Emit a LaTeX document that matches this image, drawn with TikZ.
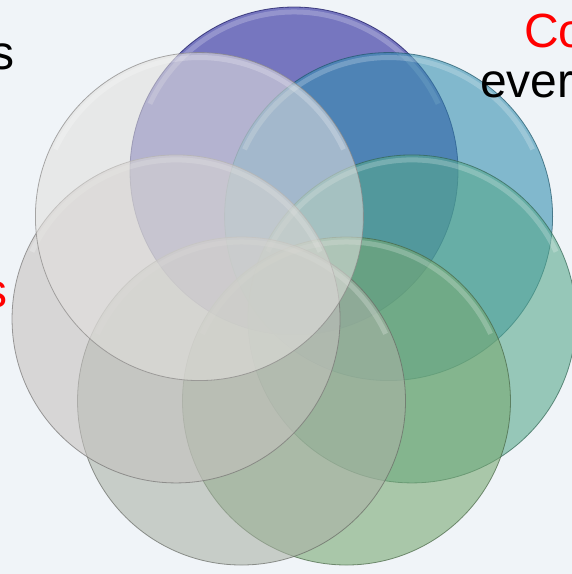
\documentclass[tikz,border=0pt]{standalone}
\usepackage{fontspec}
\setmainfont{Liberation Sans}
\usetikzlibrary{calc}
\definecolor{bgpaper}{RGB}{240,244,248}
\definecolor{cpurple}{RGB}{30,27,151}
\definecolor{cblue}{RGB}{50,142,174}
\definecolor{cteal}{RGB}{85,168,139}
\definecolor{cgreen}{RGB}{119,168,113}
\definecolor{csage}{RGB}{171,177,166}
\definecolor{cgray}{RGB}{197,194,191}
\definecolor{cwhite}{RGB}{226,224,221}
\begin{document}
\begin{tikzpicture}[x=1pt,y=-1pt]
\tikzstyle{disc}=[circle, inner sep=0pt, minimum size=328pt, fill opacity=0.58, draw opacity=0.7, line width=0.8pt]
\tikzstyle{gloss}=[white, line width=5pt, opacity=0.22]
\tikzstyle{txt}=[inner sep=0pt, font=\fontsize{48}{50}\selectfont]
\fill[bgpaper] (0,0) rectangle (572,574);
\useasboundingbox (0,0) rectangle (572,574);
\coordinate (mid) at (294,292);
% ring of seven discs, clockwise from the top
\foreach \n/\a/\c in {dp/270/cpurple, db/321.43/cblue, dt/12.86/cteal, dg/64.29/cgreen, ds/115.71/csage, dy/167.14/cgray, dw/218.57/cwhite}{
  \node[disc, fill=\c, draw=\c!60!black] (\n) at ([shift={(\a:121)}]mid) {};
  \draw[gloss] ([shift={(205:159)}]\n.center) arc[start angle=205, end angle=335, radius=159];
}
% text cut at the edges
\node[txt, anchor=base east] (s1) at (15,69) {s};
\node[txt, anchor=base east, text=red] (s2) at (8,307) {s};
\node[txt, anchor=base west, text=red] (co) at (524,47) {Co};
\node[txt, anchor=base west] (ev) at (480,97) {ever};
\end{tikzpicture}
\end{document}
